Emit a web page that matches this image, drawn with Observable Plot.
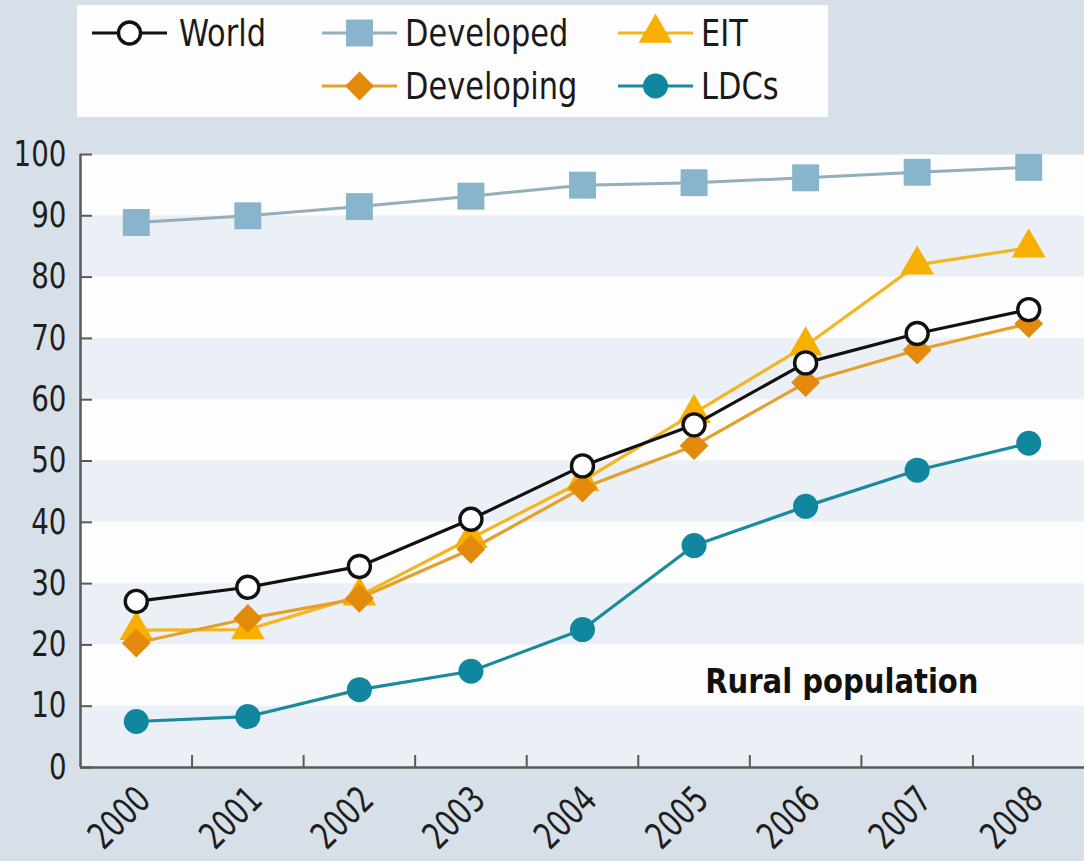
<!DOCTYPE html>
<html>
<head>
<meta charset="utf-8">
<script src="https://cdn.jsdelivr.net/npm/d3@7"></script>
<script src="https://cdn.jsdelivr.net/npm/@observablehq/plot@0.6"></script>
<style>
  html, body { margin: 0; padding: 0; }
  body { width: 1084px; height: 861px; background: #d7e0e8; overflow: hidden; position: relative;
         font-family: "Liberation Sans Narrow", "DejaVu Sans Condensed", "Roboto", sans-serif; }
  #legend { position: absolute; left: 77px; top: 5px; width: 751px; height: 112px; background: #fdfdfd; }
  .item { position: absolute; display: flex; align-items: center; height: 44px; font-size: 38px; color: #1a1a1a; white-space: nowrap; }
  .item svg { display: block; margin-right: 8px; }
  .item span { display: inline-block; transform: scaleX(0.89); transform-origin: left center; }
  #chart { position: absolute; left: 0; top: 130px; }
</style>
</head>
<body>
<div id="legend"></div>
<div id="chart"></div>
<script>
// ---- data ----
const years = [2000, 2001, 2002, 2003, 2004, 2005, 2006, 2007, 2008];
const world      = [27.1, 29.4, 32.8, 40.5, 49.2, 55.9, 66.0, 70.8, 74.7];
const developed  = [88.9, 90.0, 91.5, 93.2, 95.0, 95.4, 96.2, 97.1, 97.9];
const eit        = [22.4, 22.5, 28.0, 37.4, 46.7, 57.8, 68.8, 82.0, 84.8];
const developing = [20.3, 24.3, 27.6, 35.6, 45.6, 52.5, 62.8, 68.1, 72.4];
const ldcs       = [7.5, 8.3, 12.7, 15.7, 22.5, 36.2, 42.6, 48.5, 52.9];
const yTicks = [0, 10, 20, 30, 40, 50, 60, 70, 80, 90, 100];
const seriesNames = ["World", "Developed", "EIT", "Developing", "LDCs"];
const annotationText = "Rural population";

// ---- styles ----
const FONT = '"Liberation Sans Narrow", "DejaVu Sans Condensed", Roboto, sans-serif';
const styles = {
  World:      {values: world,      line: "#111111", lineWidth: 3.2, symbol: "circle",   r: 11,   fill: "#ffffff", stroke: "#111111", strokeWidth: 3.4},
  Developed:  {values: developed,  line: "#94aebb", lineWidth: 3,   symbol: "square",   r: 15.2, fill: "#89b5cc", stroke: "none",    strokeWidth: 0},
  EIT:        {values: eit,        line: "#f3b524", lineWidth: 3.2, symbol: "triangle", r: 12.5, fill: "#f7b000", stroke: "none",    strokeWidth: 0},
  Developing: {values: developing, line: "#e3a02a", lineWidth: 3.2, symbol: "diamond2", r: 13,   fill: "#e3890c", stroke: "none",    strokeWidth: 0},
  LDCs:       {values: ldcs,       line: "#1a8a9e", lineWidth: 3.2, symbol: "circle",   r: 12.5, fill: "#11869f", stroke: "none",    strokeWidth: 0}
};
const drawOrder = ["Developed", "LDCs", "EIT", "Developing", "World"];
const legendLayout = {
  World:      {left: 15,  top: 6, gap: 12},
  Developed:  {left: 245, top: 6, gap: 8},
  EIT:        {left: 541, top: 6, gap: 8},
  Developing: {left: 245, top: 59, gap: 8},
  LDCs:       {left: 541, top: 59, gap: 8}
};

// ---- legend ----
const legend = d3.select("#legend");
const symMap = {circle: d3.symbolCircle, square: d3.symbolSquare, triangle: d3.symbolTriangle, diamond2: d3.symbolDiamond2};
for (const name of seriesNames) {
  const s = styles[name];
  const item = legend.append("div").attr("class", "item")
    .style("left", legendLayout[name].left + "px").style("top", legendLayout[name].top + "px");
  const svg = item.append("svg").attr("width", 75).attr("height", 44).style("margin-right", legendLayout[name].gap + "px");
  svg.append("line").attr("x1", 0).attr("x2", 75).attr("y1", 22).attr("y2", 22)
    .attr("stroke", s.line).attr("stroke-width", 3);
  svg.append("path").attr("transform", "translate(37.5,22)")
    .attr("d", d3.symbol(symMap[s.symbol], Math.PI * s.r * s.r)())
    .attr("fill", s.fill).attr("stroke", s.stroke).attr("stroke-width", s.strokeWidth);
  item.append("span").text(name);
}

// ---- chart ----
const rows = drawOrder.flatMap(name => years.map((year, i) => ({series: name, year, value: styles[name].values[i]})));
const stripes = [[0, 10], [20, 30], [40, 50], [60, 70], [80, 90]];
const boundaries = years.slice(0, -1).map(y => y + 0.5);

const seriesMarks = drawOrder.flatMap(name => {
  const s = styles[name];
  const data = rows.filter(d => d.series === name);
  return [
    Plot.line(data, {x: "year", y: "value", stroke: s.line, strokeWidth: s.lineWidth}),
    Plot.dot(data, {x: "year", y: "value", symbol: s.symbol, r: s.r, fill: s.fill, stroke: s.stroke, strokeWidth: s.strokeWidth})
  ];
});

const chart = Plot.plot({
  width: 1084,
  height: 731,
  marginTop: 24,
  marginLeft: 80,
  marginRight: 0,
  marginBottom: 94,
  style: {background: "transparent", fontFamily: FONT, fontSize: "34px", color: "#1e1e1e", overflow: "visible"},
  x: {domain: [years[0] - 0.5, years[years.length - 1] + 0.5], axis: null},
  y: {domain: [0, 100], axis: null},
  marks: [
    Plot.frame({fill: "#fdfdfd", stroke: null}),
    Plot.rect(stripes, {y1: d => d[0], y2: d => d[1], fill: "#ebf0f6"}),
    Plot.axisY(yTicks, {tickSize: 0, tickPadding: 14, fontSize: 35, fill: "#1e1e1e", label: null}),
    Plot.axisY(yTicks, {tickSize: 12, text: null, dx: 12, stroke: "#5a5a5a", strokeWidth: 2, label: null}),
    Plot.axisX(years, {tickSize: 0, tickPadding: 26, dx: 8, tickRotate: -45, tickFormat: d => String(d), fontSize: 37, fill: "#1e1e1e", label: null}),
    Plot.axisX(boundaries, {tickSize: 12, text: null, dy: -12, stroke: "#5a5a5a", strokeWidth: 2, label: null}),
    Plot.ruleX([years[0] - 0.5], {stroke: "#5a5a5a", strokeWidth: 2.5}),
    Plot.ruleY([0], {stroke: "#5a5a5a", strokeWidth: 2.5}),
    ...seriesMarks,
    Plot.text([annotationText], {x: 2007.55, y: 14, text: d => d, textAnchor: "end", fontWeight: "bold", fontSize: 34, fill: "#111"})
  ]
});
document.getElementById("chart").appendChild(chart);

// condense text horizontally to mimic the narrow typeface of the original
function condense(selector, factor) {
  chart.querySelectorAll(selector).forEach(el => {
    const len = el.getComputedTextLength();
    if (len > 0) {
      el.setAttribute("textLength", (len * factor).toFixed(1));
      el.setAttribute("lengthAdjust", "spacingAndGlyphs");
    }
  });
}
condense('g[aria-label="y-axis tick label"] text', 0.88);
condense('g[aria-label="x-axis tick label"] text', 0.82);
condense('g[aria-label="text"] text', 0.95);
</script>
</body>
</html>
